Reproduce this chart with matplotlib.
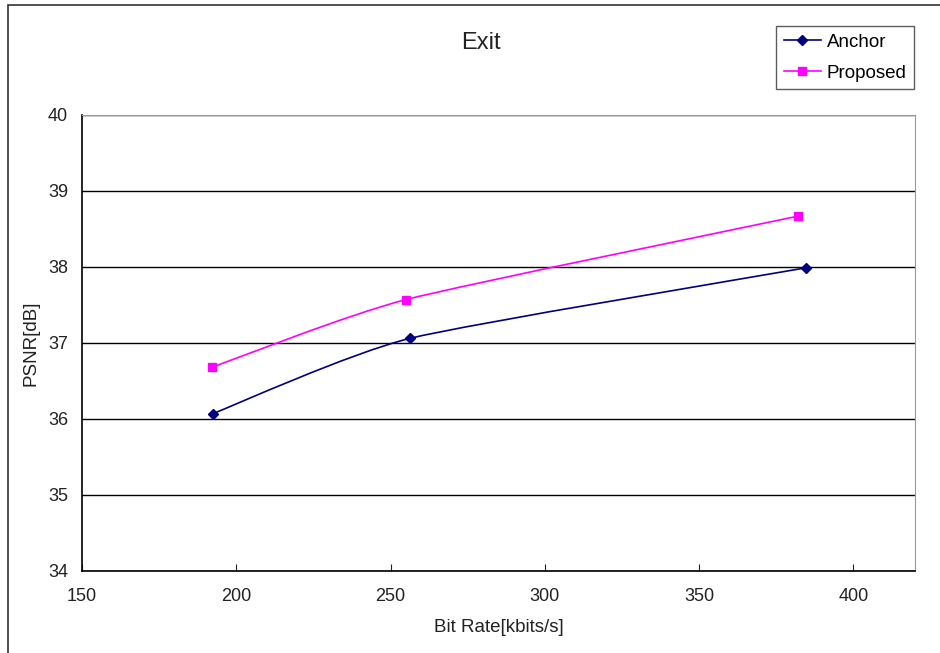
import numpy as np
import matplotlib
matplotlib.use('Agg')
import matplotlib.pyplot as plt
from matplotlib.path import Path
from matplotlib.patches import PathPatch, Rectangle
from matplotlib.lines import Line2D

plt.rcParams['font.family'] = ['Liberation Sans', 'DejaVu Sans']

# data
anchor_rate = [192.4, 256.2, 384.8]
anchor_psnr = [36.07, 37.06, 37.99]
proposed_rate = [192.1, 254.9, 382.2]
proposed_psnr = [36.68, 37.57, 38.67]

x_ticks = [150, 200, 250, 300, 350, 400]
y_ticks = [34, 35, 36, 37, 38, 39, 40]


def smooth_path(xs, ys, k=10.0):
    # Excel-like smoothed line: cubic Bezier segments through the points
    pts = np.column_stack([xs, ys]).astype(float)
    n = len(pts)
    verts = [pts[0]]
    codes = [Path.MOVETO]
    for i in range(n - 1):
        p_prev = pts[i - 1] if i > 0 else pts[i]
        p_next = pts[i + 2] if i + 2 < n else pts[i + 1]
        c1 = pts[i] + (pts[i + 1] - p_prev) / k
        c2 = pts[i + 1] - (p_next - pts[i]) / k
        verts += [c1, c2, pts[i + 1]]
        codes += [Path.CURVE4] * 3
    return Path(verts, codes)


fig = plt.figure(figsize=(9.4, 6.53), dpi=100)
ax = fig.add_axes([82 / 940, 82 / 653, 833 / 940, 456 / 653])

# outer chart border
fig.patches.append(Rectangle((8 / 940, -0.1), 1.1, 1.1 - 5 / 653,
                             transform=fig.transFigure, fill=False,
                             edgecolor='#333333', linewidth=1.2))

for xs, ys, col, mk, ms in [(anchor_rate, anchor_psnr, '#000080', 'D', 5),
                            (proposed_rate, proposed_psnr, '#FF00FF', 's', 5.5)]:
    ax.add_patch(PathPatch(smooth_path(xs, ys), fill=False, edgecolor=col,
                           linewidth=1.2, zorder=3))
    ax.plot(xs, ys, linestyle='none', marker=mk, markersize=ms, color=col,
            zorder=4)

ax.set_xlim(150, 420)
ax.set_ylim(34, 40)
ax.set_xticks(x_ticks)
ax.set_yticks(y_ticks)
ax.grid(axis='y', color='black', linewidth=1)
ax.set_axisbelow(True)
ax.tick_params(axis='x', direction='in', length=5, labelsize=13, pad=12,
               colors='#222222')
ax.tick_params(axis='y', direction='in', length=0, labelsize=13, pad=10,
               colors='#222222')
for side in ['left', 'bottom']:
    ax.spines[side].set_color('black')
    ax.spines[side].set_linewidth(1.2)
for side in ['top', 'right']:
    ax.spines[side].set_color('#999999')

ax.set_xlabel('Bit Rate[kbits/s]', fontsize=13.5, color='#222222', labelpad=10)
ax.set_ylabel('PSNR[dB]', fontsize=13.5, color='#222222', labelpad=6)
fig.text(481 / 940, 1 - 43 / 653, 'Exit', fontsize=17, ha='center',
         va='center', color='#222222')

handles = [Line2D([], [], color='#000080', marker='D', markersize=5,
                  linewidth=1.2),
           Line2D([], [], color='#FF00FF', marker='s', markersize=5.5,
                  linewidth=1.2)]
leg = fig.legend(handles, ['Anchor', 'Proposed'], loc='upper right',
                 bbox_to_anchor=(914 / 940, 1 - 26 / 653), fontsize=13.5,
                 frameon=True, fancybox=False, edgecolor='#333333',
                 borderpad=0.4, handlelength=2.0, labelspacing=0.75,
                 handletextpad=0.3, borderaxespad=0)
leg.get_frame().set_linewidth(1)

fig.savefig('out.png', dpi=100)
